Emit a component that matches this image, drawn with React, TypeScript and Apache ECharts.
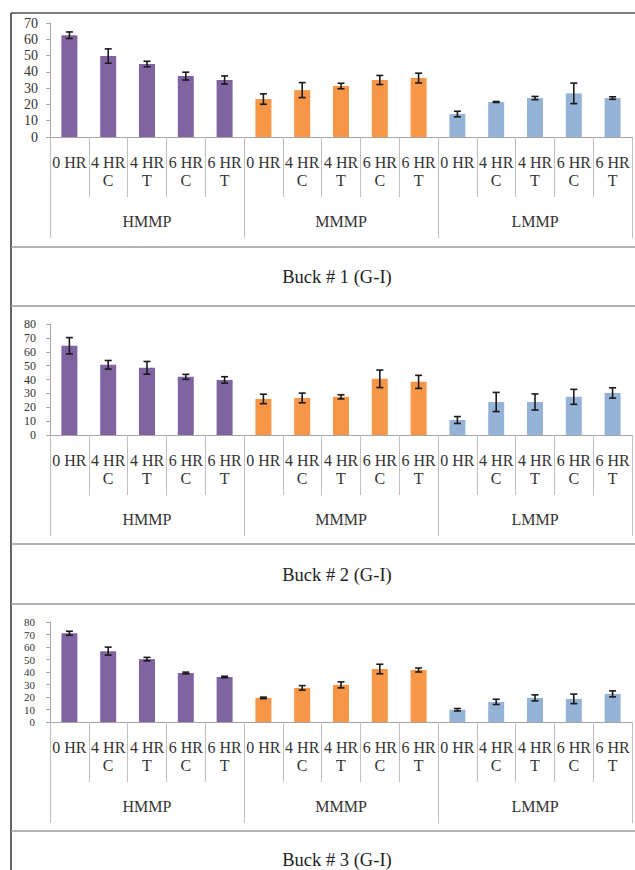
import React, { useEffect, useRef } from "react";
import * as echarts from "echarts";

const groups = ["HMMP", "MMMP", "LMMP"];
const subCategories = ["0 HR", "4 HR\nC", "4 HR\nT", "6 HR\nC", "6 HR\nT"];
const categories = groups.flatMap(() => subCategories);
const groupColors = ["#8064A2", "#F79646", "#95B3D7"];

const buck1Values = [62.5, 49.7, 44.8, 37.4, 35.0, 23.3, 28.8, 31.3, 35.0, 36.2, 14.1, 21.5, 23.9, 26.8, 23.9];
const buck1Errors = [2.0, 4.4, 1.7, 2.4, 2.5, 3.2, 4.6, 1.7, 2.8, 3.0, 1.7, 0.3, 1.0, 6.3, 0.8];
const buck2Values = [64.3, 50.6, 48.4, 41.9, 39.7, 26.0, 26.7, 27.5, 40.5, 38.3, 10.8, 23.8, 23.8, 27.5, 30.3];
const buck2Errors = [5.9, 3.1, 4.6, 1.8, 2.3, 3.4, 3.5, 1.5, 6.3, 4.7, 2.5, 6.9, 5.8, 5.4, 3.7];
const buck3Values = [71.0, 56.7, 50.3, 39.2, 36.0, 19.3, 27.3, 29.7, 42.4, 41.6, 9.8, 16.1, 19.3, 18.5, 22.5];
const buck3Errors = [1.6, 3.2, 1.4, 0.7, 0.6, 0.6, 1.8, 2.4, 3.8, 1.6, 1.0, 2.1, 2.4, 3.8, 2.4];

const yMax = [70, 80, 80];
const yInterval = 10;
const titles = ["Buck # 1 (G-I)", "Buck # 2 (G-I)", "Buck # 3 (G-I)"];

const FONT = "Liberation Serif";

export default function App() {
  const ref = useRef<HTMLDivElement>(null);

  useEffect(() => {
    if (!ref.current) return;
    const chart = echarts.init(ref.current, undefined, { renderer: "svg" });

    const panels = [
      { values: buck1Values, errors: buck1Errors, top: 23, bottom: 137, labelSize: 14, labelMargin: 12 },
      { values: buck2Values, errors: buck2Errors, top: 324, bottom: 435, labelSize: 12, labelMargin: 14 },
      { values: buck3Values, errors: buck3Errors, top: 622, bottom: 722, labelSize: 11, labelMargin: 15 },
    ];

    const grid: any[] = [];
    const xAxis: any[] = [];
    const yAxis: any[] = [];
    const series: any[] = [];

    panels.forEach((p, i) => {
      grid.push({ left: 50, width: 582, top: p.top, height: p.bottom - p.top, containLabel: false });
      xAxis.push({
        type: "category",
        gridIndex: i,
        position: "bottom",
        offset: 0,
        data: categories,
        boundaryGap: true,
        axisLine: { show: true, lineStyle: { color: "#a6a6a6", width: 1 } },
        axisTick: { show: true, interval: 0, length: 60, lineStyle: { color: "#bfbfbf", width: 1 } },
        axisLabel: {
          interval: 0,
          margin: 16,
          fontFamily: FONT,
          fontSize: 16,
          lineHeight: 18,
          color: "#333",
        },
        splitLine: { show: false },
      });
      xAxis.push({
        type: "category",
        gridIndex: i,
        position: "bottom",
        offset: 0,
        data: groups,
        boundaryGap: true,
        axisLine: { show: false },
        axisTick: { show: true, interval: 0, length: 101, lineStyle: { color: "#bfbfbf", width: 1 } },
        axisLabel: {
          interval: 0,
          margin: 75,
          fontFamily: FONT,
          fontSize: 16,
          lineHeight: 18,
          color: "#333",
        },
        splitLine: { show: false },
      });
      // two overlaid value axes: one labels even ticks, the other odd ticks
      [0, 1].forEach((parity) => {
        yAxis.push({
          type: "value",
          gridIndex: i,
          position: "left",
          offset: 0,
          min: 0,
          max: yMax[i],
          interval: yInterval,
          axisLine: { show: parity === 0, lineStyle: { color: "#a6a6a6", width: 1 } },
          axisTick: { show: parity === 0, length: 4, lineStyle: { color: "#a6a6a6" } },
          axisLabel: {
            margin: p.labelMargin,
            showMinLabel: true,
            showMaxLabel: true,
            fontFamily: FONT,
            fontSize: p.labelSize,
            lineHeight: p.labelSize,
            color: "#333",
            formatter: (v: number) => (Math.round(v / yInterval) % 2 === parity ? String(v) : ""),
          },
          splitLine: { show: false },
        });
      });
      series.push({
        type: "bar",
        xAxisIndex: i * 2,
        yAxisIndex: i * 2,
        barWidth: 16,
        data: p.values.map((v, k) => ({
          value: v,
          itemStyle: { color: groupColors[Math.floor(k / subCategories.length)] },
        })),
      });
      series.push({
        type: "custom",
        xAxisIndex: i * 2,
        yAxisIndex: i * 2,
        z: 10,
        data: p.values.map((v, k) => [k, v - p.errors[k], v + p.errors[k]]),
        renderItem: (params: any, api: any) => {
          const idx = api.value(0);
          const lo = api.coord([idx, api.value(1)]);
          const hi = api.coord([idx, api.value(2)]);
          const hw = 3.5;
          const style = { stroke: "#1a1a1a", lineWidth: 1.6 };
          return {
            type: "group",
            children: [
              { type: "line", shape: { x1: lo[0], y1: lo[1], x2: hi[0], y2: hi[1] }, style },
              { type: "line", shape: { x1: lo[0] - hw, y1: lo[1], x2: lo[0] + hw, y2: lo[1] }, style },
              { type: "line", shape: { x1: hi[0] - hw, y1: hi[1], x2: hi[0] + hw, y2: hi[1] }, style },
            ],
          };
        },
      });
    });

    const hLines = [247, 306, 544, 604, 831];
    const titleY = [277, 575, 860];
    const graphic: any[] = [
      { type: "line", shape: { x1: 11, y1: 13, x2: 635, y2: 13 }, style: { stroke: "#555", lineWidth: 1.5 } },
      { type: "line", shape: { x1: 11, y1: 13, x2: 11, y2: 870 }, style: { stroke: "#333", lineWidth: 1.5 } },
      ...hLines.map((y) => ({
        type: "line",
        shape: { x1: 11, y1: y, x2: 635, y2: y },
        style: { stroke: "#999", lineWidth: 1.5 },
      })),
      ...titles.map((t, i) => ({
        type: "text",
        x: 337,
        y: titleY[i],
        style: {
          text: t,
          fontFamily: FONT,
          fontSize: 18.5,
          fill: "#222",
          textAlign: "center",
          textVerticalAlign: "middle",
        },
      })),
    ];

    chart.setOption({
      animation: false,
      backgroundColor: "#fff",
      grid,
      xAxis,
      yAxis,
      series,
      graphic,
    });

    return () => chart.dispose();
  }, []);

  return (
    <div
      ref={ref}
      style={{ position: "fixed", left: 0, top: 0, width: 635, height: 870, background: "#fff" }}
    />
  );
}
